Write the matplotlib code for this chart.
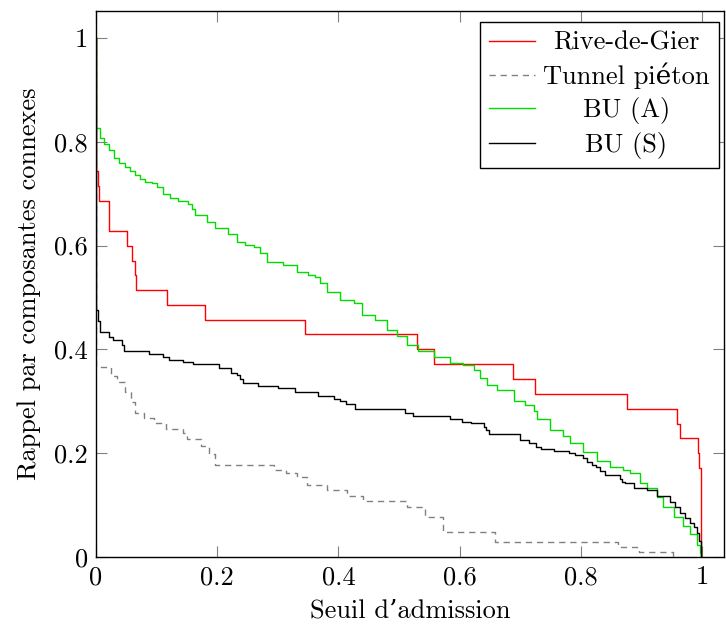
import matplotlib
matplotlib.use("Agg")
import matplotlib.pyplot as plt

plt.rcParams['font.family'] = ['cmr10', 'DejaVu Serif']
plt.rcParams['axes.unicode_minus'] = False
plt.rcParams['axes.formatter.use_mathtext'] = True

# Rive-de-Gier (steps, value held until next x)
rive_x = [0, 0, 0.0028, 0.0055, 0.022, 0.051, 0.059, 0.064, 0.066, 0.117, 0.179,
          0.345, 0.529, 0.558, 0.688, 0.724, 0.876, 0.958, 0.964, 0.993, 0.995, 0.998]
rive_y = [1.0, 0.743, 0.714, 0.686, 0.629, 0.600, 0.571, 0.543, 0.514, 0.486, 0.457,
          0.429, 0.400, 0.371, 0.343, 0.314, 0.286, 0.257, 0.229, 0.200, 0.171, 0.0]

# Tunnel piéton
tunnel_x = [0, 0, 0.024, 0.035, 0.048, 0.058, 0.065, 0.079, 0.096, 0.116, 0.143,
            0.150, 0.173, 0.187, 0.197, 0.294, 0.313, 0.332, 0.348, 0.381, 0.414,
            0.441, 0.513, 0.543, 0.573, 0.658, 0.861, 0.895, 0.952]
tunnel_y = [1.0, 0.367, 0.349, 0.338, 0.318, 0.298, 0.278, 0.268, 0.258, 0.247, 0.238,
            0.228, 0.213, 0.199, 0.178, 0.168, 0.161, 0.155, 0.139, 0.129, 0.1175,
            0.108, 0.097, 0.078, 0.049, 0.0295, 0.020, 0.0103, 0.0]

# BU (A)
bua_x = [0, 0, 0.0071, 0.0132, 0.021, 0.029, 0.038, 0.048, 0.056, 0.065, 0.073,
         0.081, 0.092, 0.100, 0.111, 0.122, 0.135, 0.152, 0.158, 0.163, 0.183, 0.196,
         0.218, 0.232, 0.246, 0.260, 0.271, 0.282, 0.309, 0.331, 0.350, 0.361, 0.370,
         0.381, 0.403, 0.425, 0.438, 0.460, 0.480, 0.496, 0.513, 0.532, 0.557, 0.584,
         0.606, 0.623, 0.634, 0.645, 0.661, 0.689, 0.708, 0.722, 0.727, 0.749, 0.771,
         0.782, 0.804, 0.826, 0.848, 0.870, 0.881, 0.898, 0.909, 0.925, 0.936, 0.953,
         0.969, 0.980, 0.991, 0.9967, 0.998]
bua_y = [1.0, 0.826, 0.807, 0.795, 0.784, 0.768, 0.760, 0.752, 0.744, 0.736, 0.729,
         0.723, 0.721, 0.713, 0.700, 0.691, 0.685, 0.681, 0.670, 0.659, 0.646, 0.633,
         0.623, 0.606, 0.602, 0.598, 0.585, 0.569, 0.563, 0.550, 0.543, 0.540, 0.528,
         0.511, 0.496, 0.489, 0.466, 0.457, 0.437, 0.426, 0.408, 0.396, 0.385, 0.373,
         0.370, 0.360, 0.345, 0.331, 0.322, 0.300, 0.292, 0.282, 0.266, 0.245, 0.234,
         0.220, 0.203, 0.185, 0.174, 0.167, 0.161, 0.142, 0.132, 0.116, 0.097, 0.078,
         0.060, 0.044, 0.023, 0.008, 0.0]

# BU (S)
bus_x = [0, 0, 0.0025, 0.0041, 0.0058, 0.0071, 0.022, 0.028, 0.043, 0.047, 0.087,
         0.110, 0.120, 0.143, 0.160, 0.203, 0.222, 0.232, 0.238, 0.243, 0.268, 0.300,
         0.328, 0.366, 0.393, 0.403, 0.413, 0.427, 0.509, 0.523, 0.584, 0.603, 0.618,
         0.640, 0.644, 0.649, 0.699, 0.715, 0.726, 0.734, 0.756, 0.781, 0.790, 0.804,
         0.810, 0.818, 0.825, 0.832, 0.840, 0.865, 0.868, 0.873, 0.887, 0.909, 0.925,
         0.947, 0.955, 0.964, 0.972, 0.980, 0.987, 0.991, 0.995, 0.998]
bus_y = [1.0, 0.476, 0.465, 0.455, 0.444, 0.434, 0.424, 0.419, 0.408, 0.396, 0.391,
         0.385, 0.380, 0.375, 0.372, 0.365, 0.355, 0.351, 0.343, 0.336, 0.330, 0.325,
         0.317, 0.311, 0.304, 0.301, 0.295, 0.286, 0.277, 0.272, 0.266, 0.261, 0.258,
         0.250, 0.245, 0.237, 0.225, 0.220, 0.2125, 0.2075, 0.205, 0.200, 0.1965, 0.190,
         0.184, 0.178, 0.174, 0.165, 0.158, 0.150, 0.145, 0.142, 0.1335, 0.129, 0.1175,
         0.1065, 0.097, 0.084, 0.076, 0.065, 0.058, 0.046, 0.030, 0.0]

ticks = [0, 0.2, 0.4, 0.6, 0.8, 1]
tick_labels = ['0', '0.2', '0.4', '0.6', '0.8', '1']

fig = plt.figure(figsize=(7.26, 6.24), dpi=100)
ax = fig.add_axes([96 / 726, 67 / 624, 628 / 726, 546 / 624])

ax.step(rive_x, rive_y, where='post', color='#ff0000', lw=1.0, label='Rive-de-Gier')
ax.step(tunnel_x, tunnel_y, where='post', color='#808080', lw=1.0,
        dashes=(4.5, 3.5), label='Tunnel piéton')
ax.step(bua_x, bua_y, where='post', color='#00dd00', lw=1.0, label='BU (A)')
ax.step(bus_x, bus_y, where='post', color='black', lw=1.0, label='BU (S)')

ax.set_xlim(0, 1.036)
ax.set_ylim(0, 1.052)
ax.set_xticks(ticks)
ax.set_xticklabels(tick_labels)
ax.set_yticks(ticks)
ax.set_yticklabels(tick_labels)
ax.tick_params(direction='in', length=8, width=0.8, color='#808080',
               top=True, right=True, labelsize=19, pad=6)
for s in ax.spines.values():
    s.set_linewidth(1.0)

ax.set_xlabel('Seuil d’admission', fontsize=19, labelpad=7)
ax.set_ylabel('Rappel par composantes connexes', fontsize=19, labelpad=9)

leg = ax.legend(loc='upper right', bbox_to_anchor=(0.992, 0.98), borderaxespad=0,
                fontsize=19, fancybox=False, framealpha=1, edgecolor='black',
                handlelength=1.75, labelspacing=0.3, borderpad=0.35, handletextpad=0.3)
leg.get_frame().set_linewidth(1.0)

# centre the legend texts like pgfplots does
fig.canvas.draw()
r = fig.canvas.get_renderer()
widths = [t.get_window_extent(r).width for t in leg.get_texts()]
wmax = max(widths)
for t, w in zip(leg.get_texts(), widths):
    t.set_position(((wmax - w) / 2, 0))

fig.savefig('out.png', dpi=100)
